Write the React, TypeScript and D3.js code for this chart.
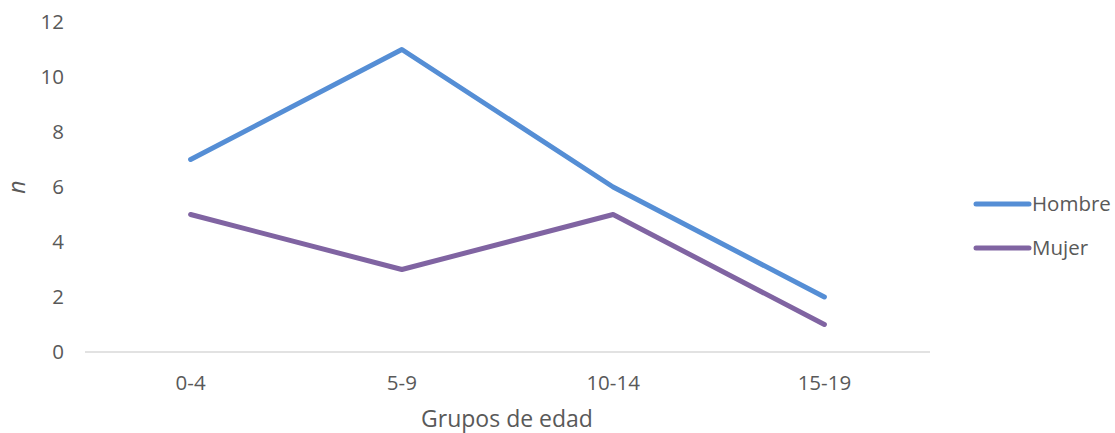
import React, { useEffect, useRef } from 'react';
import * as d3 from 'd3';

const categories = ['0-4', '5-9', '10-14', '15-19'];
const hombre = [7, 11, 6, 2];
const mujer = [5, 3, 5, 1];
const yTicks = [0, 2, 4, 6, 8, 10, 12];

const series = [
  { name: 'Hombre', values: hombre, color: '#558ED5' },
  { name: 'Mujer', values: mujer, color: '#8064A2' },
];

const App: React.FC = () => {
  const svgRef = useRef<SVGSVGElement>(null);

  useEffect(() => {
    if (!svgRef.current) return;
    const width = 1115;
    const height = 433;
    const font = '"Open Sans", sans-serif';
    const textColor = '#595959';

    const svg = d3.select(svgRef.current).attr('width', width).attr('height', height);
    svg.selectAll('*').remove();

    svg.append('rect').attr('width', width).attr('height', height).style('fill', 'white');

    const x = d3.scaleBand<string>().domain(categories).range([85, 930]);
    const y = d3.scaleLinear().domain([0, 12]).range([352, 22]);

    // baseline
    svg.append('line')
      .attr('x1', 85).attr('x2', 930)
      .attr('y1', y(0)).attr('y2', y(0))
      .style('stroke', '#d9d9d9').style('stroke-width', 1.3);

    // y tick labels
    svg.selectAll('.ytick')
      .data(yTicks)
      .enter().append('text')
      .attr('x', 64)
      .attr('y', d => y(d))
      .attr('dy', '0.35em')
      .style('text-anchor', 'end')
      .style('font-family', font)
      .style('font-size', '20.5px')
      .style('fill', textColor)
      .text(d => d);

    // x tick labels
    svg.selectAll('.xtick')
      .data(categories)
      .enter().append('text')
      .attr('x', d => x(d)! + x.bandwidth() / 2)
      .attr('y', 390)
      .style('text-anchor', 'middle')
      .style('font-family', font)
      .style('font-size', '20.5px')
      .style('fill', textColor)
      .text(d => d);

    // axis titles
    svg.append('text')
      .attr('x', 507).attr('y', 427)
      .style('text-anchor', 'middle')
      .style('font-family', font)
      .style('font-size', '23px')
      .style('fill', textColor)
      .text('Grupos de edad');

    svg.append('text')
      .attr('transform', 'translate(25,187) rotate(-90)')
      .style('text-anchor', 'middle')
      .style('font-family', font)
      .style('font-size', '23px')
      .style('font-style', 'italic')
      .style('fill', textColor)
      .text('n');

    const line = d3.line<number>()
      .x((_, i) => x(categories[i])! + x.bandwidth() / 2)
      .y(d => y(d));

    svg.selectAll('.series')
      .data(series)
      .enter().append('path')
      .attr('d', d => line(d.values))
      .style('fill', 'none')
      .style('stroke', d => d.color)
      .style('stroke-width', 5)
      .style('stroke-linecap', 'round')
      .style('stroke-linejoin', 'round');

    // legend
    const legend = svg.selectAll('.legend')
      .data(series)
      .enter().append('g')
      .attr('transform', (_, i) => `translate(976,${204 + i * 44})`);

    legend.append('line')
      .attr('x1', 0).attr('x2', 53)
      .style('stroke', d => d.color)
      .style('stroke-width', 5)
      .style('stroke-linecap', 'round');

    legend.append('text')
      .attr('x', 56)
      .attr('dy', '0.35em')
      .style('font-family', font)
      .style('font-size', '20.5px')
      .style('fill', textColor)
      .text(d => d.name);
  }, []);

  return (
    <div>
      <svg ref={svgRef} style={{ display: 'block', position: 'absolute', left: 0, top: 0 }}></svg>
    </div>
  );
};

export default App;
